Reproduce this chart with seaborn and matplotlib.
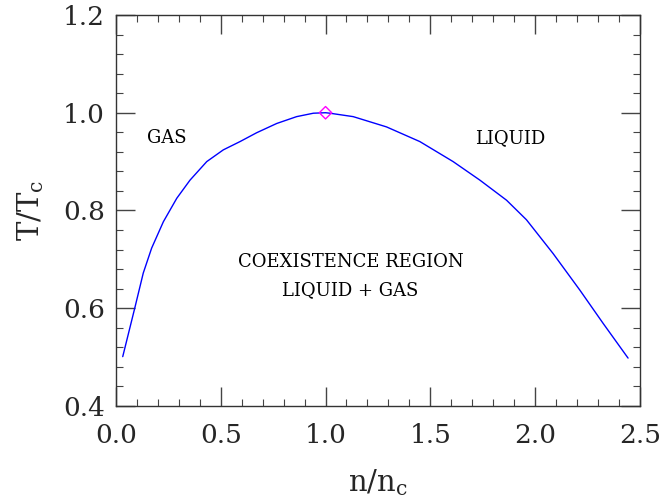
import matplotlib
matplotlib.use("Agg")
import matplotlib.pyplot as plt
import seaborn as sns
import pandas as pd
from matplotlib.ticker import MultipleLocator, FormatStrFormatter

# data
n_ratio = [0.032, 0.091, 0.130, 0.170, 0.226, 0.290, 0.353, 0.433, 0.512, 0.592,
           0.671, 0.767, 0.862, 0.942, 1.000, 1.021, 1.132, 1.291, 1.450, 1.609,
           1.737, 1.864, 1.959, 2.086, 2.214, 2.325, 2.444]
t_ratio = [0.501, 0.603, 0.672, 0.723, 0.777, 0.825, 0.862, 0.900, 0.924, 0.941,
           0.959, 0.978, 0.992, 0.999, 1.000, 0.999, 0.992, 0.971, 0.941, 0.900,
           0.862, 0.821, 0.781, 0.712, 0.637, 0.569, 0.498]
critical_n = [1.0]
critical_t = [1.0]
region_labels = ["GAS", "LIQUID", "COEXISTENCE REGION", "LIQUID + GAS"]
label_x = [0.242, 1.88, 1.12, 1.12]
label_y = [0.948, 0.948, 0.695, 0.637]

sns.set_style("ticks")
plt.rcParams["font.family"] = ["DejaVu Serif"]
plt.rcParams["mathtext.fontset"] = "dejavuserif"

df = pd.DataFrame({"n": n_ratio, "T": t_ratio})

fig = plt.figure(figsize=(6.63, 4.99), dpi=100)
ax = fig.add_axes([0.175, 0.1864, 0.790, 0.7836])

sns.lineplot(data=df, x="n", y="T", ax=ax, color="blue", linewidth=1.0, sort=False)
ax.scatter(critical_n, critical_t, marker="D", s=40, facecolors="none",
           edgecolors="magenta", linewidths=1.0, zorder=5)

for s, x, y in zip(region_labels, label_x, label_y):
    ax.text(x, y, s, ha="center", va="center", fontsize=13, color="black")

ax.set_xlim(0, 2.5)
ax.set_ylim(0.4, 1.2)
ax.xaxis.set_major_locator(MultipleLocator(0.5))
ax.xaxis.set_minor_locator(MultipleLocator(0.1))
ax.yaxis.set_major_locator(MultipleLocator(0.2))
ax.yaxis.set_minor_locator(MultipleLocator(0.04))
ax.xaxis.set_major_formatter(FormatStrFormatter("%.1f"))
ax.yaxis.set_major_formatter(FormatStrFormatter("%.1f"))

ax.tick_params(which="both", direction="in", top=True, right=True, color="#444444")
ax.tick_params(which="major", length=14, width=1.0, labelsize=19, pad=12)
ax.tick_params(axis="y", which="major", pad=8)
ax.tick_params(which="minor", length=5, width=0.8)
for sp in ax.spines.values():
    sp.set_visible(True)
    sp.set_linewidth(1.0)
    sp.set_color("#333333")

ax.set_xlabel(r"$\mathrm{n/n_c}$", fontsize=21, labelpad=14)
ax.set_ylabel(r"$\mathrm{T/T_c}$", fontsize=21, labelpad=12)

fig.savefig("out.png", dpi=100)
